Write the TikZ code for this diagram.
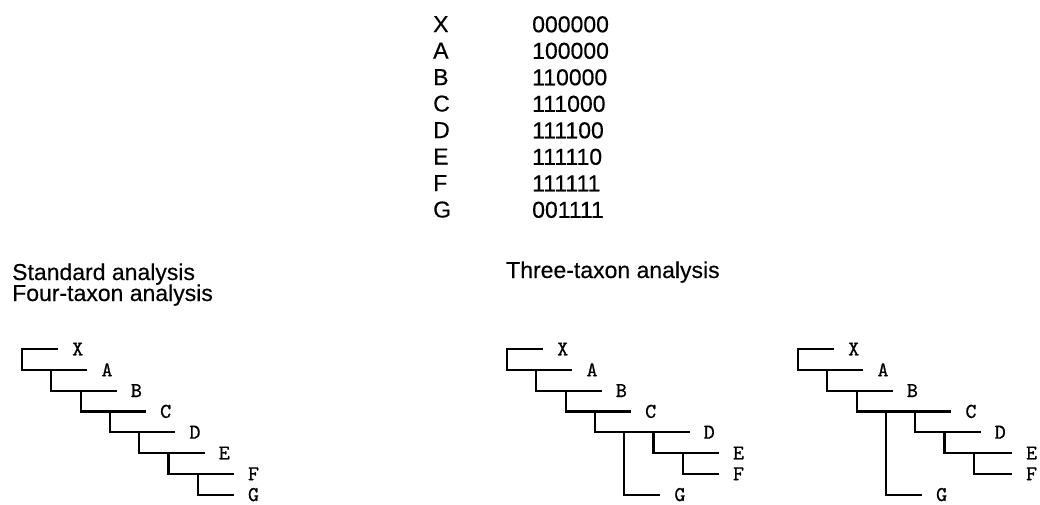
\documentclass[tikz,border=0pt]{standalone}
\usepackage{fontspec}
\setmainfont{Liberation Sans}[FakeBold=0.4]
\newfontfamily\cladefont{lmmono10-regular.otf}[FakeBold=0.8]
\usetikzlibrary{positioning}

\begin{document}
\begin{tikzpicture}[
  x=1pt, y=-1pt,
  branch/.style={line width=2.2pt},
  taxon/.style={font=\cladefont\fontsize{21}{21}\selectfont, inner sep=0pt},
  heading/.style={font=\fontsize{23}{26}\selectfont, inner sep=0pt, anchor=base west},
  matrixcol/.style={font=\fontsize{23}{26.5}\selectfont, inner sep=0pt, anchor=north west, align=left},
]
  \useasboundingbox (0,0) rectangle (1040,504);

  % character matrix
  \node[matrixcol] (taxa) at (433,16) {X\\A\\B\\C\\D\\E\\F\\G};
  \node[matrixcol] (states) at (532,16) {000000\\100000\\110000\\111000\\111100\\111110\\111111\\001111};

  % headings
  \node[heading] (standard) at (12,280) {Standard analysis};
  \node[heading] (fourtaxon) at (12,301) {Four-taxon analysis};
  \node[heading] (threetaxon) at (506,278) {Three-taxon analysis};

  % standard / four-taxon tree: fully pectinate
  \begin{scope}[xshift=22pt, yshift=-349pt, x=29.3pt, y=-20.8pt]
    \foreach \t [count=\i from 0] in {X,A,B,C,D,E,F}
      \coordinate (s-\t) at (\i+1.23,\i);
    \coordinate (s-G) at (7.23,7);
    \foreach \t [count=\i] in {A,B,C,D,E,F,G}
      \coordinate (s-n\i) at (\i-1,\i);
    \draw[branch] (s-X) -| (s-n1) -- (s-A);
    \foreach \p/\i/\t in {A/2/B, B/3/C, C/4/D, D/5/E, E/6/F, F/7/G}
      \draw[branch] (s-n\i |- s-\p) -- (s-n\i) -- (s-\t);
    \foreach \t in {X,A,B,C,D,E,F,G}
      \node[taxon, right=14pt of s-\t] (s-l\t) {\t};
  \end{scope}

  % three-taxon tree, G joins at D
  \begin{scope}[xshift=507pt, yshift=-349pt, x=29.3pt, y=-20.8pt]
    \coordinate (m-X) at (1.23,0);
    \coordinate (m-A) at (2.23,1);
    \coordinate (m-B) at (3.23,2);
    \coordinate (m-C) at (4.23,3);
    \coordinate (m-D) at (6.23,4);
    \coordinate (m-E) at (7.23,5);
    \coordinate (m-F) at (7.23,6);
    \coordinate (m-G) at (5.23,7);
    \coordinate (m-n1) at (0,1);
    \coordinate (m-n2) at (1,2);
    \coordinate (m-n3) at (2,3);
    \coordinate (m-n4) at (3,4);
    \coordinate (m-nG) at (4,7);
    \coordinate (m-nE) at (5,5);
    \coordinate (m-nF) at (6,6);
    \draw[branch] (m-X) -| (m-n1) -- (m-A);
    \draw[branch] (m-n2 |- m-A) -- (m-n2) -- (m-B);
    \draw[branch] (m-n3 |- m-B) -- (m-n3) -- (m-C);
    \draw[branch] (m-n4 |- m-C) -- (m-n4) -- (m-D);
    \draw[branch] (m-nG |- m-D) -- (m-nG) -- (m-G);
    \draw[branch] (m-nE |- m-D) -- (m-nE) -- (m-E);
    \draw[branch] (m-nF |- m-E) -- (m-nF) -- (m-F);
    \foreach \t in {X,A,B,C,D,E,F,G}
      \node[taxon, right=14pt of m-\t] (m-l\t) {\t};
  \end{scope}

  % three-taxon tree, G joins at C
  \begin{scope}[xshift=798pt, yshift=-349pt, x=29.3pt, y=-20.8pt]
    \coordinate (r-X) at (1.23,0);
    \coordinate (r-A) at (2.23,1);
    \coordinate (r-B) at (3.23,2);
    \coordinate (r-C) at (5.23,3);
    \coordinate (r-D) at (6.23,4);
    \coordinate (r-E) at (7.3,5);
    \coordinate (r-F) at (7.3,6);
    \coordinate (r-G) at (4.23,7);
    \coordinate (r-n1) at (0,1);
    \coordinate (r-n2) at (1,2);
    \coordinate (r-n3) at (2,3);
    \coordinate (r-nG) at (3,7);
    \coordinate (r-nD) at (4,4);
    \coordinate (r-nE) at (5,5);
    \coordinate (r-nF) at (6,6);
    \draw[branch] (r-X) -| (r-n1) -- (r-A);
    \draw[branch] (r-n2 |- r-A) -- (r-n2) -- (r-B);
    \draw[branch] (r-n3 |- r-B) -- (r-n3) -- (r-C);
    \draw[branch] (r-nG |- r-C) -- (r-nG) -- (r-G);
    \draw[branch] (r-nD |- r-C) -- (r-nD) -- (r-D);
    \draw[branch] (r-nE |- r-D) -- (r-nE) -- (r-E);
    \draw[branch] (r-nF |- r-E) -- (r-nF) -- (r-F);
    \foreach \t in {X,A,B,C,D,E,F,G}
      \node[taxon, right=14pt of r-\t] (r-l\t) {\t};
  \end{scope}
\end{tikzpicture}
\end{document}
